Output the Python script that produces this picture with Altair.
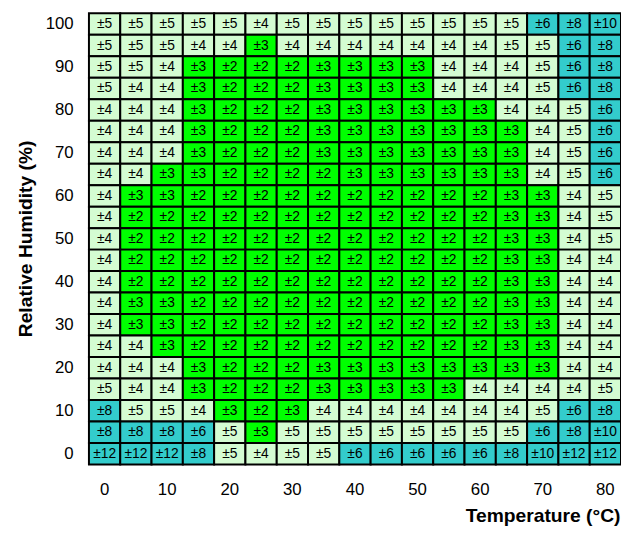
import altair as alt
import pandas as pd

temperatures = [0, 5, 10, 15, 20, 25, 30, 35, 40, 45, 50, 55, 60, 65, 70, 75, 80]
humidities = [100, 95, 90, 85, 80, 75, 70, 65, 60, 55, 50, 45, 40, 35, 30, 25, 20, 15, 10, 5, 0]

rh100 = [5, 5, 5, 5, 5, 4, 5, 5, 5, 5, 5, 5, 5, 5, 6, 8, 10]
rh95 = [5, 5, 5, 4, 4, 3, 4, 4, 4, 4, 4, 4, 4, 5, 5, 6, 8]
rh90 = [5, 5, 4, 3, 2, 2, 2, 3, 3, 3, 3, 4, 4, 4, 5, 6, 8]
rh85 = [5, 4, 4, 3, 2, 2, 2, 3, 3, 3, 3, 4, 4, 4, 5, 6, 8]
rh80 = [4, 4, 4, 3, 2, 2, 2, 3, 3, 3, 3, 3, 3, 4, 4, 5, 6]
rh75 = [4, 4, 4, 3, 2, 2, 2, 3, 3, 3, 3, 3, 3, 3, 4, 5, 6]
rh70 = [4, 4, 4, 3, 2, 2, 2, 3, 3, 3, 3, 3, 3, 3, 4, 5, 6]
rh65 = [4, 4, 3, 3, 2, 2, 2, 2, 3, 3, 3, 3, 3, 3, 4, 5, 6]
rh60 = [4, 3, 3, 2, 2, 2, 2, 2, 2, 2, 2, 2, 2, 3, 3, 4, 5]
rh55 = [4, 2, 2, 2, 2, 2, 2, 2, 2, 2, 2, 2, 2, 3, 3, 4, 5]
rh50 = [4, 2, 2, 2, 2, 2, 2, 2, 2, 2, 2, 2, 2, 3, 3, 4, 5]
rh45 = [4, 2, 2, 2, 2, 2, 2, 2, 2, 2, 2, 2, 2, 3, 3, 4, 4]
rh40 = [4, 2, 2, 2, 2, 2, 2, 2, 2, 2, 2, 2, 2, 3, 3, 4, 4]
rh35 = [4, 3, 3, 2, 2, 2, 2, 2, 2, 2, 2, 2, 2, 3, 3, 4, 4]
rh30 = [4, 3, 3, 2, 2, 2, 2, 2, 2, 2, 2, 2, 2, 3, 3, 4, 4]
rh25 = [4, 4, 3, 2, 2, 2, 2, 2, 2, 2, 2, 2, 2, 3, 3, 4, 4]
rh20 = [4, 4, 4, 3, 2, 2, 2, 3, 3, 3, 3, 3, 3, 3, 3, 4, 4]
rh15 = [5, 4, 4, 3, 2, 2, 2, 3, 3, 3, 3, 3, 4, 4, 4, 4, 5]
rh10 = [8, 5, 5, 4, 3, 2, 3, 4, 4, 4, 4, 4, 4, 4, 5, 6, 8]
rh5 = [8, 8, 8, 6, 5, 3, 5, 5, 5, 5, 5, 5, 5, 5, 6, 8, 10]
rh0 = [12, 12, 12, 8, 5, 4, 5, 5, 6, 6, 6, 6, 6, 8, 10, 12, 12]

rows = [rh100, rh95, rh90, rh85, rh80, rh75, rh70, rh65, rh60, rh55, rh50,
        rh45, rh40, rh35, rh30, rh25, rh20, rh15, rh10, rh5, rh0]

records = []
for h, row in zip(humidities, rows):
    for t, v in zip(temperatures, row):
        records.append({"T": t, "RH": h, "v": v})
df = pd.DataFrame(records)

FONT = "Liberation Sans, Arial"

x = alt.X("T:O", sort=temperatures,
          scale=alt.Scale(paddingInner=0, paddingOuter=0),
          axis=alt.Axis(values=[0, 10, 20, 30, 40, 50, 60, 70, 80], labelAngle=0,
                        domain=False, ticks=False, tickSize=0, labelPadding=17,
                        labelFontSize=17, labelFont=FONT, labelColor="#000",
                        title="Temperature (°C)", titleFont=FONT, titleFontSize=19.5,
                        titleFontWeight="bold", titleColor="#000",
                        titleAlign="right", titleAnchor="end", titleX=538, titleY=58,
                        titleBaseline="alphabetic"))
y = alt.Y("RH:O", sort=humidities,
          scale=alt.Scale(paddingInner=0, paddingOuter=0),
          axis=alt.Axis(values=[100, 90, 80, 70, 60, 50, 40, 30, 20, 10, 0],
                        domain=False, ticks=False, tickSize=0, labelPadding=16,
                        labelFontSize=17, labelFont=FONT, labelColor="#000",
                        title="Relative Humidity (%)", titleFont=FONT, titleFontSize=19.5,
                        titleFontWeight="bold", titleColor="#000",
                        titleAngle=270, titleAlign="center", titleX=-58, titleY=228,
                        titleBaseline="alphabetic"))

base = alt.Chart(df).transform_calculate(
    cls="datum.v <= 3 ? 'low' : (datum.v <= 5 ? 'mid' : 'high')",
    label="'±' + datum.v",
)

rects = base.mark_rect(stroke="#000", strokeWidth=2).encode(
    x=x, y=y,
    color=alt.Color("cls:N",
                    scale=alt.Scale(domain=["low", "mid", "high"],
                                    range=["#00FF00", "#D4FCD2", "#33CCCC"]),
                    legend=None),
)

texts = base.mark_text(font=FONT, fontSize=14, color="#000").encode(
    x=x, y=y, text="label:N"
)

chart = (rects + texts).properties(
    width=539, height=457,
    autosize=alt.AutoSizeParams(type="none"),
    padding={"left": 82, "top": 2, "right": 0, "bottom": 62},
).configure_view(stroke=None)

chart.save("out.html", embed_options={"renderer": "svg", "actions": False})
